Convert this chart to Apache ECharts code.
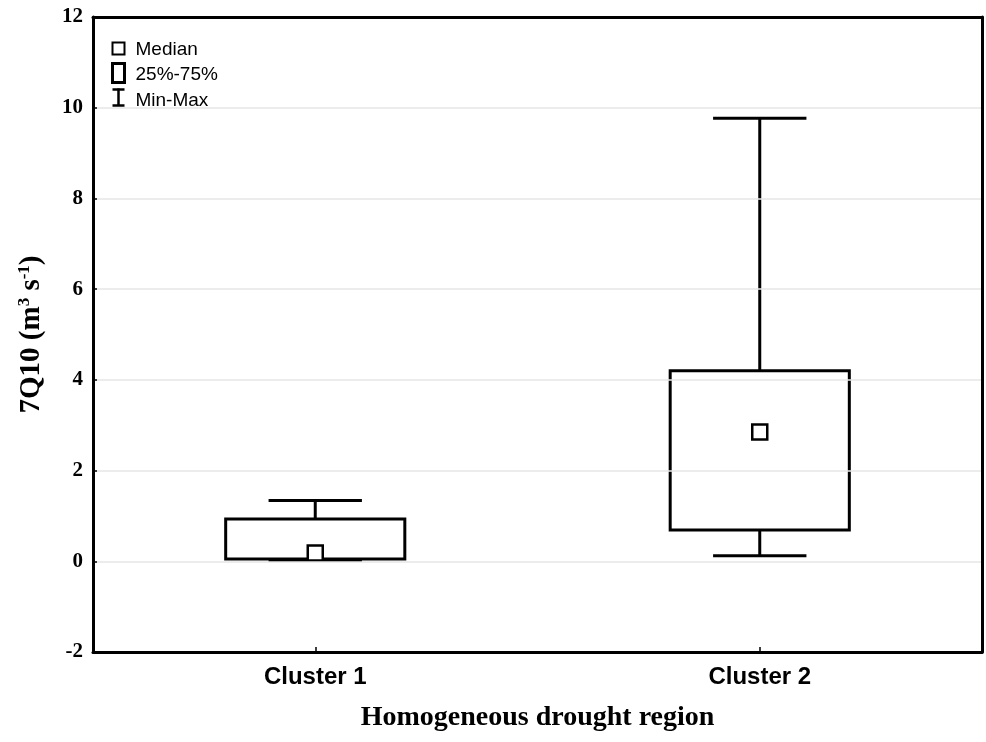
<!DOCTYPE html>
<html>
<head>
<meta charset="utf-8">
<title>7Q10 box plot</title>
<script src="https://cdn.jsdelivr.net/npm/echarts@6/dist/echarts.min.js"></script>
<style>
  html, body { margin: 0; padding: 0; background: #fff; }
  #chart { width: 986px; height: 742px; }
</style>
</head>
<body>
<div id="chart"></div>
<script>
// 数据
const categories = ["Cluster 1", "Cluster 2"];
const minVals = [0.02, 0.12];
const q1Vals = [0.05, 0.69];
const medianVals = [0.18, 2.85];
const q3Vals = [0.93, 4.2];
const maxVals = [1.34, 9.77];
const yTicks = [-2, 0, 2, 4, 6, 8, 10, 12];

const serif = "'Liberation Serif', 'Times New Roman', serif";
const sans = "'Liberation Sans', Arial, sans-serif";

const boxData = categories.map((c, i) => [i, minVals[i], q1Vals[i], medianVals[i], q3Vals[i], maxVals[i]]);

function renderBox(params, api) {
  const x = api.value(0);
  const pMin = api.coord([x, api.value(1)]);
  const pQ1 = api.coord([x, api.value(2)]);
  const pMed = api.coord([x, api.value(3)]);
  const pQ3 = api.coord([x, api.value(4)]);
  const pMax = api.coord([x, api.value(5)]);
  const band = api.size([1, 0])[0];
  const boxW = band * 0.403;
  const capW = band * 0.21;
  const cx = pMed[0];
  const line = { stroke: "#000", lineWidth: 3 };
  const sq = 15;
  return {
    type: "group",
    children: [
      // 下须
      { type: "line", shape: { x1: cx, y1: pMin[1], x2: cx, y2: pQ1[1] }, style: line },
      { type: "line", shape: { x1: cx - capW / 2, y1: pMin[1], x2: cx + capW / 2, y2: pMin[1] }, style: line },
      // 上须
      { type: "line", shape: { x1: cx, y1: pMax[1], x2: cx, y2: pQ3[1] }, style: line },
      { type: "line", shape: { x1: cx - capW / 2, y1: pMax[1], x2: cx + capW / 2, y2: pMax[1] }, style: line },
      // 箱体
      {
        type: "rect",
        shape: { x: cx - boxW / 2, y: pQ3[1], width: boxW, height: pQ1[1] - pQ3[1] },
        style: { fill: "#fff", stroke: "#000", lineWidth: 3 },
      },
      // 中位数
      {
        type: "rect",
        shape: { x: cx - sq / 2, y: pMed[1] - sq / 2, width: sq, height: sq },
        style: { fill: "#fff", stroke: "#000", lineWidth: 2.5 },
      },
    ],
  };
}

const frameLine = { show: true, onZero: false, lineStyle: { color: "#000", width: 3 } };

const chart = echarts.init(document.getElementById("chart"));
chart.setOption({
  animation: false,
  backgroundColor: "#fff",
  grid: {
    left: 93,
    right: 4,
    top: 17,
    bottom: 90,
  },
  xAxis: [
    {
      type: "category",
      data: categories,
      boundaryGap: true,
      name: "Homogeneous drought region",
      nameLocation: "middle",
      nameGap: 52,
      nameTextStyle: { fontFamily: serif, fontWeight: "bold", fontSize: 28, color: "#000" },
      axisLine: frameLine,
      axisTick: { show: true, inside: true, alignWithLabel: true, length: 5, lineStyle: { color: "#000", width: 1.5 } },
      axisLabel: { margin: 13, fontFamily: sans, fontWeight: "bold", fontSize: 24, color: "#000" },
      splitLine: { show: false },
      z: 5,
    },
    {
      // 顶部边框
      type: "category",
      data: categories,
      position: "top",
      axisLine: frameLine,
      axisTick: { show: false },
      axisLabel: { show: false },
      splitLine: { show: false },
      z: 5,
    },
  ],
  yAxis: [
    {
      type: "value",
      min: yTicks[0],
      max: yTicks[yTicks.length - 1],
      interval: 2,
      name: "7Q10 (m{sup|3} s{sup|-1})",
      nameLocation: "middle",
      nameGap: 46,
      nameTextStyle: {
        fontFamily: serif,
        fontWeight: "bold",
        fontSize: 29,
        color: "#000",
        rich: {
          sup: { fontFamily: serif, fontWeight: "bold", fontSize: 17, verticalAlign: "top", padding: [0, 0, 14, 0], color: "#000" },
        },
      },
      axisLine: frameLine,
      axisTick: { show: true, inside: true, length: 4, lineStyle: { color: "#000", width: 1.5 } },
      axisLabel: { margin: 10, fontFamily: serif, fontWeight: "bold", fontSize: 21, color: "#000" },
      splitLine: { show: true, lineStyle: { color: "#e6e6e6", width: 1.5 } },
      z: 5,
    },
    {
      // 右侧边框
      type: "value",
      position: "right",
      min: yTicks[0],
      max: yTicks[yTicks.length - 1],
      interval: 2,
      axisLine: frameLine,
      axisTick: { show: false },
      axisLabel: { show: false },
      splitLine: { show: false },
      z: 5,
    },
  ],
  graphic: [
    {
      type: "group",
      left: 110,
      top: 40,
      children: [
        { type: "rect", shape: { x: 0, y: 2, width: 12, height: 12 }, style: { fill: "#fff", stroke: "#000", lineWidth: 2 } },
        { type: "text", x: 23, y: 9, style: { text: "Median", font: "19px " + sans, fill: "#000", verticalAlign: "middle" } },
        { type: "rect", shape: { x: 0, y: 23, width: 12, height: 19 }, style: { fill: "#fff", stroke: "#000", lineWidth: 3 } },
        { type: "text", x: 23, y: 34, style: { text: "25%-75%", font: "19px " + sans, fill: "#000", verticalAlign: "middle" } },
        { type: "line", shape: { x1: 6, y1: 48, x2: 6, y2: 65 }, style: { stroke: "#000", lineWidth: 2.5 } },
        { type: "line", shape: { x1: 0, y1: 49, x2: 12, y2: 49 }, style: { stroke: "#000", lineWidth: 2.5 } },
        { type: "line", shape: { x1: 0, y1: 65, x2: 12, y2: 65 }, style: { stroke: "#000", lineWidth: 2.5 } },
        { type: "text", x: 23, y: 60, style: { text: "Min-Max", font: "19px " + sans, fill: "#000", verticalAlign: "middle" } },
      ],
    },
  ],
  series: [
    {
      type: "custom",
      name: "7Q10",
      renderItem: renderBox,
      encode: { x: 0, y: [1, 2, 3, 4, 5] },
      data: boxData,
      z: 3,
    },
  ],
});
</script>
</body>
</html>
